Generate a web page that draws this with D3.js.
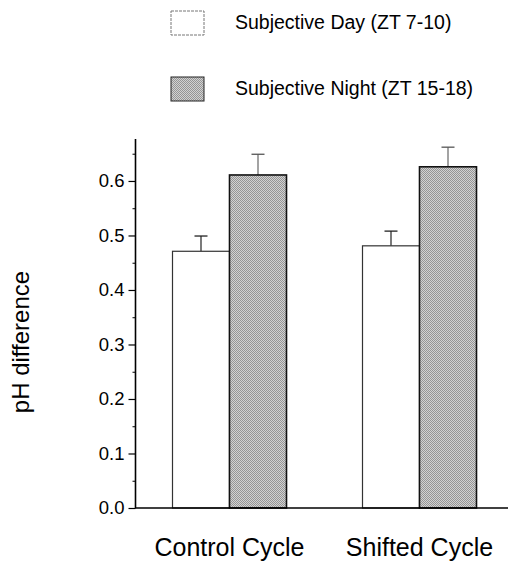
<!DOCTYPE html>
<html>
<head>
<meta charset="utf-8">
<script src="https://cdn.jsdelivr.net/npm/d3@7"></script>
<style>
  html, body { margin: 0; padding: 0; background: #fff; }
  svg { display: block; font-family: "Liberation Sans", Arial, sans-serif; }
</style>
</head>
<body>
<svg id="chart" width="508" height="561"></svg>
<script>
const categories = ["Control Cycle", "Shifted Cycle"];
const seriesNames = ["Subjective Day (ZT 7-10)", "Subjective Night (ZT 15-18)"];
const dayValues = [0.471, 0.481];
const dayErrors = [0.028, 0.027];
const nightValues = [0.611, 0.626];
const nightErrors = [0.038, 0.036];
const yTicks = [0.0, 0.1, 0.2, 0.3, 0.4, 0.5, 0.6];
const yMinorTicks = [0.05, 0.15, 0.25, 0.35, 0.45, 0.55, 0.65];
const yLabel = "pH difference";

const svg = d3.select("#chart");

// halftone-like pattern for night bars
const defs = svg.append("defs");
const pat = defs.append("pattern")
  .attr("id", "dither").attr("width", 2).attr("height", 2)
  .attr("patternUnits", "userSpaceOnUse");
pat.append("rect").attr("width", 2).attr("height", 2).attr("fill", "#d2d2d2");
pat.append("rect").attr("width", 1).attr("height", 1).attr("fill", "#959595");
pat.append("rect").attr("x", 1).attr("y", 1).attr("width", 1).attr("height", 1).attr("fill", "#959595");

const y = d3.scaleLinear().domain([0, 0.677]).range([508, 139]);
const x = d3.scalePoint().domain(categories).range([229.5, 419.5]);
const inner = d3.scaleBand().domain(["day", "night"]).range([-57, 57]).padding(0);

const data = [];
categories.forEach((c, i) => {
  data.push({cat: c, s: "day", v: dayValues[i], e: dayErrors[i]});
  data.push({cat: c, s: "night", v: nightValues[i], e: nightErrors[i]});
});

// error bars (upward only)
const eb = svg.append("g");
data.forEach(d => {
  const cx = x(d.cat) + inner(d.s) + inner.bandwidth() / 2;
  eb.append("line").attr("x1", cx).attr("x2", cx)
    .attr("y1", y(d.v)).attr("y2", y(d.v + d.e))
    .attr("stroke", d.s === "day" ? "#222" : "#666").attr("stroke-width", 1.2);
  eb.append("line").attr("x1", cx - 6.5).attr("x2", cx + 6.5)
    .attr("y1", y(d.v + d.e)).attr("y2", y(d.v + d.e))
    .attr("stroke", d.s === "day" ? "#222" : "#555").attr("stroke-width", 1.3);
});

// bars
svg.append("g").selectAll("rect").data(data).join("rect")
  .attr("x", d => x(d.cat) + inner(d.s))
  .attr("y", d => y(d.v))
  .attr("width", inner.bandwidth())
  .attr("height", d => y(0) - y(d.v))
  .attr("fill", d => d.s === "day" ? "#fff" : "url(#dither)")
  .attr("stroke", d => d.s === "day" ? "#333" : "#111")
  .attr("stroke-width", d => d.s === "day" ? 1.2 : 1.6);

// y axis
const yAxis = d3.axisLeft(y).tickValues(yTicks).tickFormat(d3.format(".1f"))
  .tickSize(7).tickPadding(4);
const ya = svg.append("g").attr("transform", "translate(135.5,0)").call(yAxis);
ya.select(".domain").attr("d", `M0,${y(0)}V${y(0.677)}`).attr("stroke", "#000").attr("stroke-width", 1.6);
ya.selectAll(".tick line").attr("stroke", "#000").attr("stroke-width", 1.2);
ya.selectAll(".tick text").attr("font-size", 18.5).attr("fill", "#000")
  .attr("font-family", "Liberation Sans, Arial, sans-serif");
const yMinor = d3.axisLeft(y).tickValues(yMinorTicks).tickSize(3).tickFormat("");
const ym = svg.append("g").attr("transform", "translate(135.5,0)").call(yMinor);
ym.select(".domain").remove();
ym.selectAll(".tick line").attr("stroke", "#000").attr("stroke-width", 1);

// x baseline
svg.append("line").attr("x1", 135).attr("x2", 508)
  .attr("y1", y(0)).attr("y2", y(0)).attr("stroke", "#000").attr("stroke-width", 1.6);

// x labels
svg.append("g").selectAll("text").data(categories).join("text")
  .attr("x", d => x(d)).attr("y", 556)
  .attr("text-anchor", "middle").attr("font-size", 25).attr("fill", "#000")
  .text(d => d);

// y label
svg.append("text")
  .attr("transform", "translate(29,342) rotate(-90)")
  .attr("text-anchor", "middle").attr("font-size", 24).attr("fill", "#000")
  .text(yLabel);

// legend
const leg = svg.append("g");
const legY = [11, 77];
seriesNames.forEach((name, i) => {
  leg.append("rect").attr("x", 171).attr("y", legY[i]).attr("width", 33).attr("height", 24)
    .attr("fill", i === 0 ? "#fff" : "url(#dither)")
    .attr("stroke", i === 0 ? "#777" : "#222")
    .attr("stroke-width", 1)
    .attr("stroke-dasharray", i === 0 ? "3,1" : null);
  leg.append("text").attr("x", 235).attr("y", legY[i] + 18)
    .attr("font-size", 19.5).attr("fill", "#000").text(name);
});
</script>
</body>
</html>
